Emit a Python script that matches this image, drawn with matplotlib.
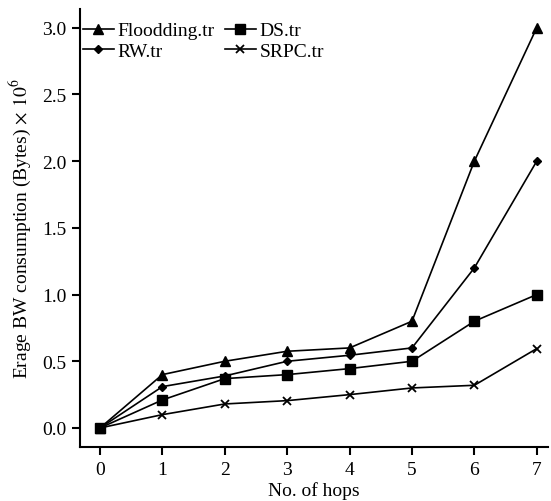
import matplotlib
matplotlib.use("Agg")
import matplotlib.pyplot as plt

plt.rcParams['font.family'] = ['Liberation Serif', 'DejaVu Serif']
plt.rcParams['mathtext.fontset'] = 'stix'

hops = [0, 1, 2, 3, 4, 5, 6, 7]
flooding = [0, 0.40, 0.50, 0.575, 0.60, 0.80, 2.0, 3.0]
rw = [0, 0.31, 0.39, 0.50, 0.545, 0.60, 1.2, 2.0]
ds = [0, 0.21, 0.37, 0.40, 0.445, 0.50, 0.80, 1.0]
srpc = [0, 0.10, 0.18, 0.205, 0.25, 0.30, 0.32, 0.595]

fig = plt.figure(figsize=(5.51, 5.02), dpi=100)
ax = fig.add_axes([80/551, 1-448/502, 468/551, 438/502])

ax.plot(hops, flooding, color='black', lw=1.2, marker='^', ms=7, label='Floodding.tr')
ax.plot(hops, rw, color='black', lw=1.2, marker='D', ms=4.5, label='RW.tr')
ax.plot(hops, ds, color='black', lw=1.2, marker='s', ms=6.5, label='DS.tr')
ax.plot(hops, srpc, color='black', lw=1.2, marker='x', ms=6, mew=1.3, label='SRPC.tr')

ax.set_xlim(-0.32, 7.18)
ax.set_ylim(-0.1425, 3.14)
ax.set_xticks(hops)
ax.set_yticks([0, 0.5, 1.0, 1.5, 2.0, 2.5, 3.0])
ax.set_yticklabels(['0.0', '0.5', '1.0', '1.5', '2.0', '2.5', '3.0'])
ax.spines['top'].set_visible(False)
ax.spines['right'].set_visible(False)
ax.spines['left'].set_linewidth(1.5)
ax.spines['bottom'].set_linewidth(1.5)
ax.tick_params(direction='out', length=6, width=1.5, labelsize=14, pad=4)

ax.set_xlabel('No. of hops', fontsize=14, labelpad=2)
ax.set_ylabel(r'Erage BW consumption (Bytes)$\,\times\,10^6$', fontsize=14, labelpad=6)

ax.legend(loc='upper left', ncol=2, frameon=False, fontsize=14, handlelength=1.6,
          handletextpad=0.2, columnspacing=0.5, labelspacing=0.15,
          bbox_to_anchor=(0.006, 0.971), borderaxespad=0, borderpad=0)

fig.savefig('out.png', dpi=100)
